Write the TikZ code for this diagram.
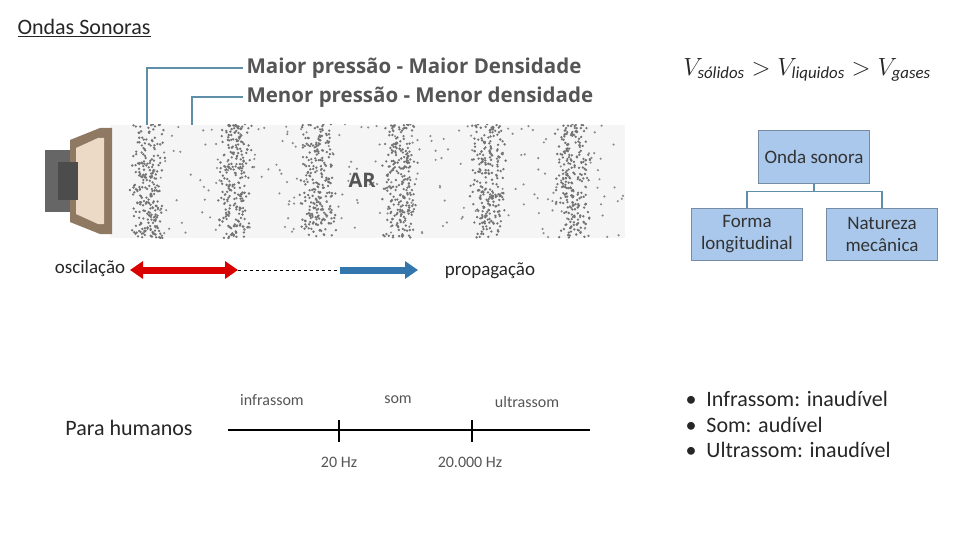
\documentclass[tikz,border=0pt]{standalone}
\usepackage{fontspec}
\setmainfont{Carlito}
\newfontfamily\headfont{Open Sans}
\usetikzlibrary{arrows.meta,positioning}
\definecolor{boxblue}{HTML}{A9C8EC}
\definecolor{linkblue}{HTML}{5F8FA8}
\definecolor{textgray}{HTML}{555555}
\tikzset{
  treebox/.style = {draw=boxblue!70!black, fill=boxblue, align=center,
    minimum width=111pt, minimum height=53pt, font=\fontsize{19}{22}\selectfont, text=black!80},
  leaderline/.style = {draw=linkblue, line width=1.2pt},
  headtext/.style = {anchor=west, text=textgray, font=\headfont\bfseries\fontsize{20.5}{23}\selectfont},
  scaletext/.style = {text=textgray, font=\fontsize{16}{18}\selectfont},
  plaintext/.style = {font=\fontsize{22}{31}\selectfont, text=black!85}
}
\begin{document}
\begin{tikzpicture}[x=1pt,y=-1pt]
\useasboundingbox (0,0) rectangle (960,540);
% titulo
\node[plaintext, anchor=west] (title) at (14,28) {\underline{Ondas Sonoras}};
% ar com compressoes
\fill[black!4] (110,125) rectangle (625,238);
\begin{scope}
\clip (110,125) rectangle (625,238);
\pgfmathsetseed{7}
\foreach \cx in {148,235,318,400,488,572}{
  \foreach \i in {1,...,240}{
    \fill[black!55] (\cx+13*rand+6*rand,181+57*rand) circle (1.3pt);
  }
  \foreach \i in {1,...,35}{
    \fill[black!45] (\cx+43+40*rand,181+57*rand) circle (1.2pt);
  }
}
\end{scope}
\node[text=textgray, font=\headfont\bfseries\fontsize{20}{22}\selectfont] (ar) at (362,180) {AR};
% alto-falante
\fill[black!60] (45,150) rectangle (70,212);
\fill[brown!50!black!70] (70,140) -- (100,128) -- (112,128) -- (112,234) -- (100,234) -- (70,222) -- cycle;
\fill[brown!30!white] (76,148) -- (98,138) -- (104,138) -- (104,224) -- (98,224) -- (76,214) -- cycle;
\fill[black!70] (58,162) rectangle (78,200);
% legendas
\node[headtext] (maior) at (243,68) {Maior pressão - Maior Densidade};
\node[headtext] (menor) at (243,97) {Menor pressão - Menor densidade};
\coordinate (c1) at (147,125);
\coordinate (c2) at (192,125);
\draw[leaderline] (c1) |- (maior.west);
\draw[leaderline] (c2) |- (menor.west);
% oscilacao e propagacao
\node[plaintext, font=\fontsize{19}{22}\selectfont] (osc) at (90,268) {oscilação};
\coordinate (r1) at (130,270);
\coordinate (r2) at (238,270);
\coordinate (b1) at (340,270);
\coordinate (b2) at (418,270);
\draw[line width=7pt, draw=red!85!black, {Triangle[length=13pt,width=17pt]}-{Triangle[length=13pt,width=17pt]}] (r1) -- (r2);
\draw[dashed] (r2) -- (b1);
\draw[line width=7pt, draw=blue!45!cyan!60!black!80, -{Triangle[length=13pt,width=17pt]}] (b1) -- (b2);
\node[plaintext, font=\fontsize{19}{22}\selectfont] (prop) at (490,271) {propagação};
% velocidades
\node[plaintext, font=\fontsize{24}{26}\selectfont] (vel) at (807,70) {$V_{\mathit{sólidos}} > V_{\mathit{liquidos}} > V_{\mathit{gases}}$};
% arvore
\node[treebox] (onda) at (814,157) {Onda sonora};
\node[treebox, minimum height=52pt] (forma) at (747,234) {Forma\\longitudinal};
\node[treebox, minimum height=52pt] (natur) at (882,234) {Natureza\\mecânica};
\draw[leaderline] (onda.south) -- ++(0,8) -| (forma.north);
\draw[leaderline] (onda.south) -- ++(0,8) -| (natur.north);
% escala de frequencia
\node[plaintext] (hum) at (129,428) {Para humanos};
\coordinate (a1) at (228,430);
\coordinate (a2) at (590,430);
\draw[line width=1.6pt] (a1) -- (a2);
\coordinate (t1) at (339,430);
\coordinate (t2) at (472,430);
\draw[line width=1.8pt] ([yshift=-12pt]t1) -- ([yshift=10pt]t1);
\draw[line width=1.8pt] ([yshift=-12pt]t2) -- ([yshift=10pt]t2);
\node[scaletext] (infra) at (272,400) {infrassom};
\node[scaletext] (som) at (398,400) {som};
\node[scaletext] (ultra) at (527,402) {ultrassom};
\node[scaletext] (hz1) at (339,462) {20 Hz};
\node[scaletext] (hz2) at (470,462) {20.000 Hz};
% lista
\node[plaintext, anchor=north west, align=left, font=\fontsize{22}{25.5}\selectfont] (lista) at (682,388) {%
  • \ Infrassom: inaudível\\ • \ Som: audível\\ • \ Ultrassom: inaudível};
\end{tikzpicture}
\end{document}
